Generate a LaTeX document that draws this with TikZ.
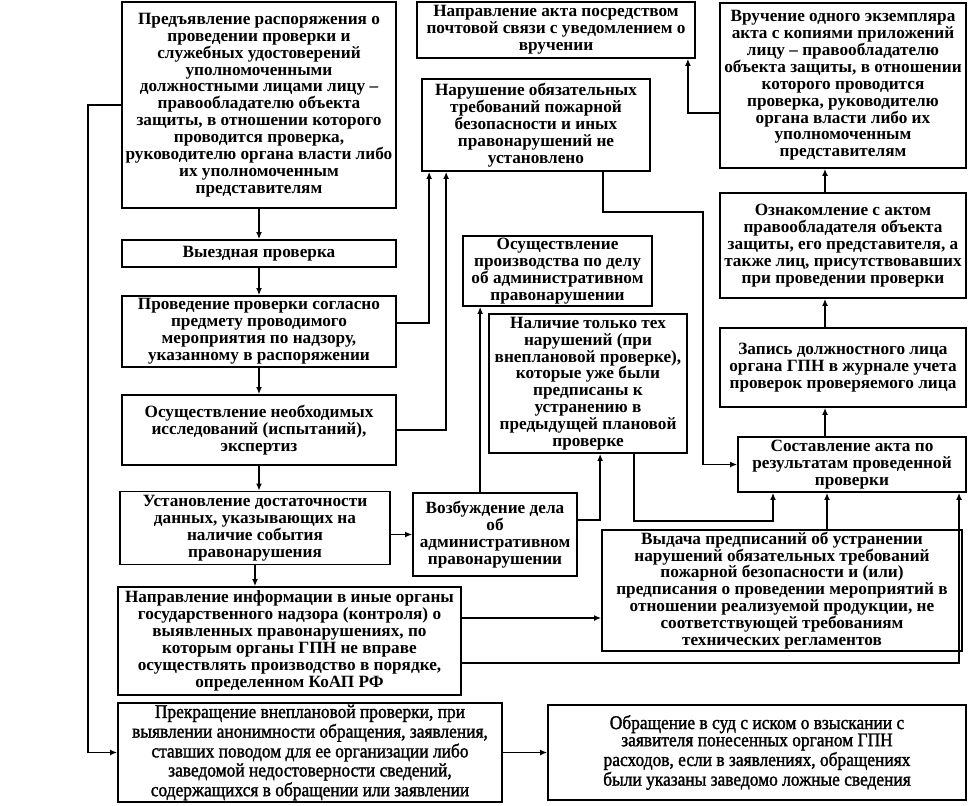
\documentclass[tikz,border=0pt]{standalone}
\usepackage{fontspec}
\setmainfont{Liberation Serif}
\newfontfamily\narrowserif[FakeStretch=0.9,FakeBold=1.5]{Liberation Serif}
\usepackage{tikz}
\usetikzlibrary{arrows.meta}

\begin{document}
\begin{tikzpicture}[
    x=0.2mm, y=-0.2mm,
    block/.style={rectangle, draw, line width=1pt, inner sep=1pt, align=center, fill=white,
        font=\bfseries\fontsize{9.8}{9.6}\selectfont},
    lowblock/.style={block, font=\narrowserif\fontsize{11}{9.8}\selectfont},
    arrow/.style={-{Latex[length=4pt,width=3.4pt]}, line width=1pt},
]
    \useasboundingbox (0,0) rectangle (970,805);

    % Main column
    \node[block, minimum width=54.8mm, minimum height=41.2mm] (pred) at (259,105)
        {Предъявление распоряжения о\\проведении проверки и\\служебных удостоверений\\уполномоченными\\должностными лицами лицу –\\правообладателю объекта\\защиты, в отношении которого\\проводится проверка,\\руководителю органа власти либо\\их уполномоченным\\представителям};
    \node[block, minimum width=54.8mm, minimum height=5.4mm] (vyezd) at (259,253.5) {Выездная проверка};
    \node[block, minimum width=54.8mm, minimum height=14.2mm] (provedenie) at (259,331.5)
        {Проведение проверки согласно\\предмету проводимого\\мероприятия по надзору,\\указанному в распоряжении};
    \node[block, minimum width=54.8mm, minimum height=14mm] (issled) at (259,430)
        {Осуществление необходимых\\исследований (испытаний),\\экспертиз};
    \node[block, minimum width=54mm, minimum height=14.6mm] (ustan) at (255,528)
        {Установление достаточности\\данных, указывающих на\\наличие события\\правонарушения};
    \node[block, minimum width=68.6mm, minimum height=21.6mm] (info) at (289.5,641)
        {Направление информации в иные органы\\государственного надзора (контроля) о\\выявленных правонарушениях, по\\которым органы ГПН не вправе\\осуществлять производство в порядке,\\определенном КоАП РФ};

    % Bottom row
    \node[lowblock, minimum width=76.8mm, minimum height=19mm] (prekr) at (310,752.5)
        {Прекращение внеплановой проверки, при\\выявлении анонимности обращения, заявления,\\ставших поводом для ее организации либо\\заведомой недостоверности сведений,\\содержащихся в обращении или заявлении};
    \node[lowblock, minimum width=83.6mm, minimum height=19mm] (sud) at (757,752.5)
        {Обращение в суд с иском о взыскании с\\заявителя понесенных органом ГПН\\расходов, если в заявлениях, обращениях\\были указаны заведомо ложные сведения};

    % Middle column
    \node[block, minimum width=55.6mm, minimum height=11.2mm] (pochta) at (556,30)
        {Направление акта посредством\\почтовой связи с уведомлением о\\вручении};
    \node[block, minimum width=45.6mm, minimum height=18.4mm] (netnarush) at (536,125)
        {Нарушение обязательных\\требований пожарной\\безопасности и иных\\правонарушений не\\установлено};
    \node[block, minimum width=37.8mm, minimum height=14mm] (proizv) at (557.5,271)
        {Осуществление\\производства по делу\\об административном\\правонарушении};
    \node[block, minimum width=39.6mm, minimum height=27.8mm, inner ysep=0pt] (nalich) at (588,383.5)
        {Наличие только тех\\нарушений (при\\внеплановой проверке),\\которые уже были\\предписаны к\\устранению в\\предыдущей плановой\\проверке};
    \node[block, minimum width=32.8mm, minimum height=16.6mm] (vozb) at (495,534.5)
        {Возбуждение дела\\об\\административном\\правонарушении};
    \node[block, minimum width=72mm, minimum height=24.2mm] (vydacha) at (782,590.5)
        {Выдача предписаний об устранении\\нарушений обязательных требований\\пожарной безопасности и (или)\\предписания о проведении мероприятий в\\отношении реализуемой продукции, не\\соответствующей требованиям\\технических регламентов};

    % Right column
    \node[block, minimum width=49.2mm, minimum height=33mm] (vruch) at (843,85.5)
        {Вручение одного экземпляра\\акта с копиями приложений\\лицу – правообладателю\\объекта защиты, в отношении\\которого проводится\\проверка, руководителю\\органа власти либо их\\уполномоченным\\представителям};
    \node[block, minimum width=49.2mm, minimum height=21mm] (oznak) at (843,245.5)
        {Ознакомление с актом\\правообладателя объекта\\защиты, его представителя, а\\также лиц, присутствовавших\\при проведении проверки};
    \node[block, minimum width=49.2mm, minimum height=15.8mm] (zapis) at (843,367.5)
        {Запись должностного лица\\органа ГПН в журнале учета\\проверок проверяемого лица};
    \node[block, minimum width=45.6mm, minimum height=11mm] (akt) at (852,464.5)
        {Составление акта по\\результатам проведенной\\проверки};

    % Helper points
    \coordinate (loopL) at (88,0);
    \coordinate (col) at (825,0);
    \coordinate (bendA) at (703,212);
    \coordinate (vz1) at ([xshift=13.6mm]vozb.north west);
    \coordinate (nl1) at ([xshift=29.2mm]nalich.south west);
    \coordinate (vd1) at ([xshift=9mm]vydacha.north);
    \coordinate (in1) at ([yshift=4.6mm]info.east);
    \coordinate (in2) at ([yshift=-4.4mm]info.east);
    \coordinate (vr1) at ([yshift=-5.5mm]vruch.west);

    % Arrows
    \draw[arrow] (pred) -- (vyezd);
    \draw[arrow] (vyezd) -- (provedenie);
    \draw[arrow] (provedenie) -- (issled);
    \draw[arrow] (issled.south) -- (issled.south |- ustan.north);
    \draw[arrow] (ustan.south) -- (ustan.south |- info.north);
    \draw[arrow] (pred.west) -| (loopL |- prekr.west) -- (prekr.west);
    \draw[arrow] (prekr) -- (sud);
    \draw[arrow] ([yshift=1.7mm]provedenie.east) -| ([xshift=1.6mm]netnarush.south west);
    \draw[arrow] (issled.east) -| ([xshift=5mm]netnarush.south west);
    \draw[arrow] ([xshift=-9.6mm]netnarush.south east) |- (bendA) |- (akt.west);
    \draw[arrow] (ustan.east |- vozb.west) -- (vozb.west);
    \draw[arrow] (vz1) -- (vz1 |- proizv.south);
    \draw[arrow] ([yshift=2.9mm]vozb.east) -| ([xshift=22.4mm]nalich.south west);
    \draw[arrow] (nl1) -- ++(0,-13.4mm) -| ([xshift=-15.8mm]akt.south);
    \draw[arrow] (vd1) -- (vd1 |- akt.south);
    \draw[arrow] (in1) -- (in1 -| vydacha.west);
    \draw[arrow] (in2) -| ([xshift=21.4mm]akt.south);
    \draw[arrow] (col |- akt.north) -- (col |- zapis.south);
    \draw[arrow] (col |- zapis.north) -- (col |- oznak.south);
    \draw[arrow] (col |- oznak.north) -- (col |- vruch.south);
    \draw[arrow] (vr1) -| ([xshift=-1.6mm]pochta.south east);
\end{tikzpicture}
\end{document}
